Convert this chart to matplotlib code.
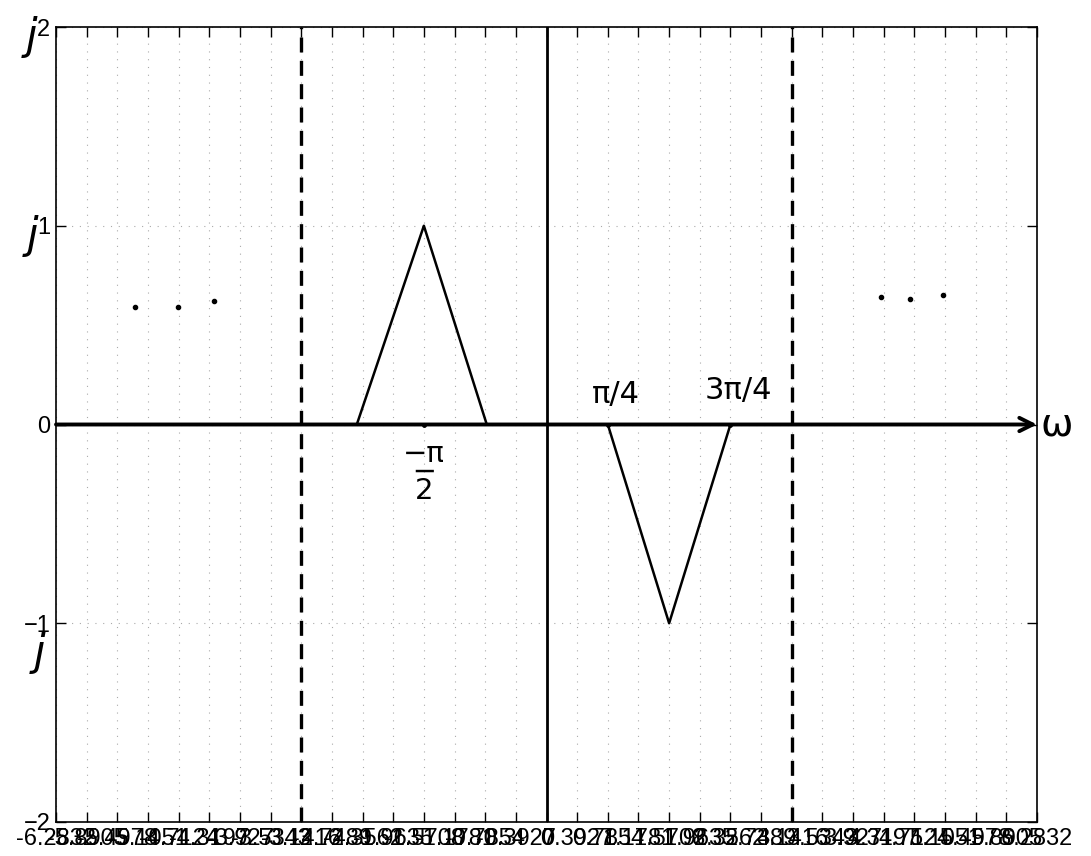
import matplotlib
matplotlib.use("Agg")
import matplotlib.pyplot as plt
import numpy as np

# triangle data (omega, value)
tri_up_x = [-2.43, -np.pi / 2, -0.765]
tri_up_y = [0, 1, 0]
tri_dn_x = [np.pi / 4, np.pi / 2, 3 * np.pi / 4]
tri_dn_y = [0, -1, 0]

# period boundaries
dash_x = [-np.pi, np.pi]

# hand drawn "..." marks
dots_left_x = [-5.27, -4.72, -4.26]
dots_left_y = [0.59, 0.59, 0.62]
dots_right_x = [4.28, 4.65, 5.08]
dots_right_y = [0.64, 0.63, 0.65]

xticks = np.arange(-16, 17) * np.pi / 8
yticks = [-2, -1, 0, 1, 2]
xticklabels = ['%g' % round(v, 4) for v in xticks]

plt.rcParams['font.family'] = ['Liberation Sans', 'DejaVu Sans']

fig = plt.figure(figsize=(10.91, 8.56), dpi=100)
ax = fig.add_axes([56 / 1091, 1 - 822 / 856, 981 / 1091, 795 / 856])

ax.set_xlim(-2 * np.pi, 2 * np.pi)
ax.set_ylim(-2, 2)
ax.set_xticks(xticks)
ax.set_xticklabels(xticklabels, fontsize=17)
ax.set_yticks(yticks)
ax.set_yticklabels(['\u22122', '\u22121', '0', '1', '2'], fontsize=17)
ax.tick_params(direction='in', length=7, top=True, right=True, width=1, pad=4)
ax.grid(True, linestyle=(0, (1, 6)), color='#aaaaaa', linewidth=0.8)
for s in ax.spines.values():
    s.set_linewidth(1.2)

# lines
ax.plot(tri_up_x, tri_up_y, color='black', lw=1.8)
ax.plot(tri_dn_x, tri_dn_y, color='black', lw=1.8)
for xv in dash_x:
    ax.axvline(xv, color='black', lw=2.4, linestyle=(0, (4.5, 2.5)))
ax.axvline(0, color='black', lw=2)
ax.annotate('', xy=(2 * np.pi, 0), xytext=(-2 * np.pi, 0),
            arrowprops=dict(arrowstyle='->', lw=2.8, color='black',
                            mutation_scale=24, shrinkA=0, shrinkB=0),
            annotation_clip=False)

# hand annotations
ax.plot(dots_left_x, dots_left_y, 'k.', ms=6)
ax.plot(dots_right_x, dots_right_y, 'k.', ms=6)
ax.plot(tri_dn_x[::2] + [-np.pi / 2], [0, 0, 0], 'k.', ms=5)
hand = dict(fontsize=22, color='black', family=['DejaVu Sans'])
ax.text(np.pi / 4 + 0.1, 0.08, '\u03c0/4', ha='center', va='bottom', **hand)
ax.text(3 * np.pi / 4 + 0.1, 0.1, '3\u03c0/4', ha='center', va='bottom', **hand)
ax.text(-np.pi / 2, -0.08, '\u2212\u03c0\n\u2500\n2', ha='center', va='top',
        fontsize=21, linespacing=0.55, family=['DejaVu Sans'])
ax.text(2 * np.pi + 0.05, 0.0, '\u03c9', ha='left', va='center', fontsize=28,
        family=['DejaVu Sans'])
ax.text(-6.6, 1.95, 'j', ha='center', va='center', fontsize=30,
        family=['DejaVu Sans'], style='italic', clip_on=False)
ax.text(-6.58, 0.95, 'j', ha='center', va='center', fontsize=30,
        family=['DejaVu Sans'], style='italic', clip_on=False)
ax.text(-6.5, -1.15, 'j', ha='center', va='center', fontsize=30,
        family=['DejaVu Sans'], style='italic', clip_on=False)

fig.savefig('out.png', dpi=100)
